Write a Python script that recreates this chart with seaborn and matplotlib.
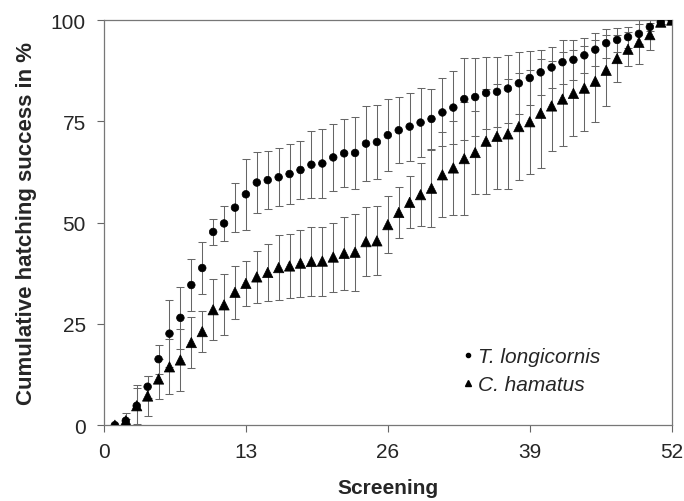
import numpy as np
import pandas as pd
import matplotlib.pyplot as plt
import seaborn as sns

# screening number 1..52
screening = list(range(1, 53))

# T. longicornis, mean and sd in %
t_long = [0, 1.1, 4.8, 9.5, 16.3, 22.6, 26.5, 34.6, 38.8, 47.7,
          49.8, 53.7, 57.0, 59.9, 60.5, 61.2, 62.0, 63.0, 64.3, 64.6,
          66.1, 67.1, 67.2, 69.5, 69.9, 71.6, 72.8, 73.7, 74.7, 75.6,
          77.2, 78.4, 80.5, 81.0, 82.0, 82.3, 83.1, 84.4, 85.7, 87.1,
          88.3, 89.6, 90.2, 91.3, 92.7, 94.3, 95.1, 95.8, 96.6, 98.3,
          99.5, 100]
t_long_sd = [0, 2.0, 4.5, 2.7, 3.6, 8.3, 7.7, 6.5, 6.5, 3.3,
             4.4, 6.0, 8.7, 7.5, 7.2, 7.2, 7.5, 7.2, 8.2, 8.5,
             8.3, 8.4, 8.8, 9.3, 9.2, 8.9, 8.1, 8.4, 8.5, 7.5,
             8.4, 9.1, 10.1, 9.7, 9.0, 8.7, 8.4, 7.6, 6.6, 5.5,
             5.1, 5.4, 5.0, 4.4, 4.1, 3.6, 2.9, 2.6, 2.4, 1.0,
             0.5, 0]

# C. hamatus, mean and sd in %
c_ham = [0, 1.1, 4.8, 7.2, 11.4, 14.4, 16.1, 20.4, 23.1, 28.5,
         29.7, 32.8, 35.0, 36.6, 37.7, 38.9, 39.3, 40.0, 40.4, 40.5,
         41.5, 42.4, 42.7, 45.3, 45.5, 49.5, 52.5, 55.0, 56.9, 58.5,
         61.8, 63.5, 65.8, 67.3, 70.1, 71.3, 71.9, 73.7, 74.9, 77.0,
         78.8, 80.5, 81.9, 83.2, 84.9, 87.6, 90.5, 92.8, 94.5, 96.4,
         99.5, 100]
c_ham_sd = [0, 0.5, 5.0, 5.0, 5.0, 6.8, 7.7, 6.2, 5.0, 7.5,
            7.5, 6.5, 5.5, 6.5, 7.0, 8.0, 8.0, 8.3, 8.5, 8.5,
            8.5, 9.0, 9.5, 8.5, 8.5, 7.0, 6.3, 6.4, 7.7, 9.5,
            10.5, 11.6, 13.9, 10.3, 13.0, 13.0, 13.6, 13.2, 12.9, 13.4,
            11.1, 11.5, 10.6, 10.5, 10.1, 8.7, 5.8, 4.2, 5.4, 3.7,
            0.5, 0]

species = ["T. longicornis", "C. hamatus"]

df = pd.DataFrame({
    "screening": screening * 2,
    "success": t_long + c_ham,
    "sd": t_long_sd + c_ham_sd,
    "species": [species[0]] * len(screening) + [species[1]] * len(screening),
})

sns.set_style("ticks")
plt.rcParams["font.family"] = ["Liberation Sans", "DejaVu Sans"]

fig = plt.figure(figsize=(6.84, 5.02), dpi=100)
ax = fig.add_axes([0.152, 0.151, 0.830, 0.807])

# error bars behind the markers
for sp in species:
    d = df[df["species"] == sp]
    ax.errorbar(d["screening"], d["success"], yerr=d["sd"], fmt="none",
                ecolor="#666666", elinewidth=0.75, capsize=3, capthick=0.75,
                zorder=1)

sns.scatterplot(data=df, x="screening", y="success", style="species",
                markers={species[0]: "o", species[1]: "^"},
                size="species", sizes={species[0]: 30, species[1]: 55},
                color="black", edgecolor="black", linewidth=0.5,
                ax=ax, zorder=3, legend=False)

# legend
handles = [
    plt.Line2D([], [], marker="o", color="black", ls="none", markersize=3),
    plt.Line2D([], [], marker="^", color="black", ls="none", markersize=5),
]
leg = ax.legend(handles, species, loc="center left",
                bbox_to_anchor=(0.6, 0.135), frameon=False,
                handlelength=0.4, handletextpad=0.3, labelspacing=0.45,
                prop={"style": "italic", "size": 15})

ax.set_xlim(0, 52)
ax.set_ylim(0, 100)
ax.set_xticks([0, 13, 26, 39, 52])
ax.set_yticks([0, 25, 50, 75, 100])
ax.tick_params(direction="out", length=5, width=0.8, color="#666666",
               labelsize=15)
ax.tick_params(axis="x", pad=7)
ax.tick_params(axis="y", pad=8)

for s in ax.spines.values():
    s.set_visible(True)
    s.set_color("#777777")
    s.set_linewidth(0.9)

ax.set_xlabel("Screening", fontsize=15, fontweight="bold", labelpad=12)
ax.set_ylabel("Cumulative hatching success in %", fontsize=16,
              fontweight="bold", labelpad=10)

fig.savefig("out.png", dpi=100)
